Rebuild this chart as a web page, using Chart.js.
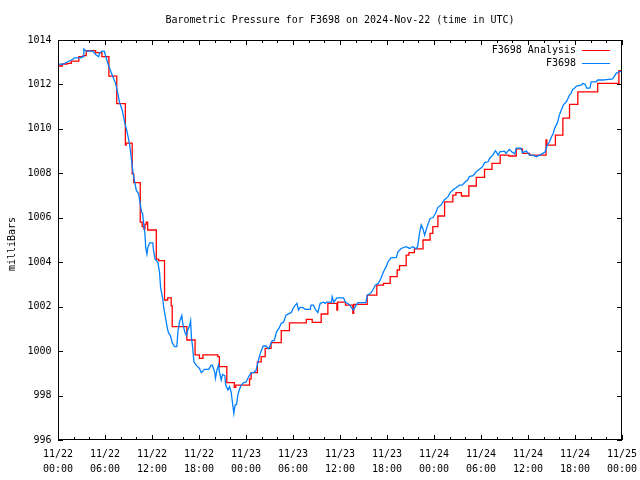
<!DOCTYPE html>
<html>
<head>
<meta charset="utf-8">
<script src="https://cdn.jsdelivr.net/npm/chart.js@4.4.1/dist/chart.umd.min.js"></script>
<style>
  html, body { margin: 0; padding: 0; background: #fff; }
  #pressure-chart { display: block; }
</style>
</head>
<body>
<canvas id="pressure-chart" width="640" height="480"></canvas>
<script>
var chartTitle = 'Barometric Pressure for F3698 on 2024-Nov-22 (time in UTC)';
var yAxisTitle = 'milliBars';
var seriesNames = ['F3698 Analysis', 'F3698'];

// hours since 2024-11-22 00:00 UTC
var xTickHours = [0, 6, 12, 18, 24, 30, 36, 42, 48, 54, 60, 66, 72];
var xTickLabels = [
    ['11/22', '00:00'], ['11/22', '06:00'], ['11/22', '12:00'], ['11/22', '18:00'],
    ['11/23', '00:00'], ['11/23', '06:00'], ['11/23', '12:00'], ['11/23', '18:00'],
    ['11/24', '00:00'], ['11/24', '06:00'], ['11/24', '12:00'], ['11/24', '18:00'],
    ['11/25', '00:00']
];
var yTickValues = [996, 998, 1000, 1002, 1004, 1006, 1008, 1010, 1012, 1014];

var analysisHours = [0, 0.55, 1.2, 1.7, 2.66, 3.2, 3.6, 4.8, 5.6, 6.5, 7.5, 8.6, 8.7, 9.47, 9.67,
    10.5, 10.75, 10.95, 11.1, 11.25, 11.45, 12.55, 12.85, 13.6, 14.0, 14.45, 14.58, 16.45, 17.5,
    18.06, 18.5, 20.4, 20.6, 21.55, 22.5, 22.7, 24.45, 24.66, 25.45, 25.94, 26.45, 27.2, 28.5,
    29.55, 31.7, 32.45, 33.6, 34.45, 35.6, 35.7, 36.7, 37.64, 37.75, 39.47, 40.7, 41.55, 42.4,
    43.3, 43.6, 44.45, 44.8, 45.5, 46.6, 47.5, 47.85, 48.5, 49.35, 50.4, 50.8, 51.5, 52.45,
    53.4, 54.45, 55.4, 56.45, 57.55, 58.5, 59.3, 60.2, 62.3, 62.4, 63.5, 64.45, 65.3, 66.36,
    68.9, 71.6, 72];
var analysisPressure = [1012.83, 1012.92, 1012.95, 1013.05, 1013.25, 1013.3, 1013.52, 1013.43,
    1013.25, 1012.37, 1011.14, 1009.27, 1009.36, 1007.98, 1007.58, 1005.8, 1005.6, 1005.5,
    1005.7, 1005.8, 1005.45, 1004.14, 1004.07, 1002.3, 1002.4, 1002.04, 1001.1, 1000.5, 999.83,
    999.67, 999.83, 999.75, 999.3, 998.58, 998.37, 998.47, 998.75, 999.03, 999.52, 999.75,
    1000.12, 1000.38, 1000.92, 1001.27, 1001.43, 1001.29, 1001.67, 1002.15, 1001.85, 1002.2,
    1002.07, 1001.7, 1002.1, 1002.52, 1002.97, 1003.05, 1003.35, 1003.65, 1003.85, 1004.32,
    1004.43, 1004.6, 1005.0, 1005.3, 1005.6, 1006.08, 1006.72, 1007.02, 1007.13, 1006.98,
    1007.43, 1007.82, 1008.18, 1008.45, 1008.82, 1008.78, 1009.1, 1008.9, 1008.82, 1009.5,
    1009.27, 1009.72, 1010.48, 1011.1, 1011.67, 1012.05, 1012.62, 1012.62];

var obsHours = [0, 0.6, 1.25, 1.9, 2.1, 2.9, 3.2, 3.3, 3.6, 4.45, 4.8, 5.2, 5.3, 5.6, 5.9, 6.07,
    6.36, 6.67, 7.0, 7.35, 7.64, 7.85, 8.2, 8.5, 8.8, 9.13, 9.35, 9.55, 9.77, 10.0, 10.3, 10.5,
    10.66, 10.8, 10.96, 11.1, 11.2, 11.35, 11.47, 11.7, 12.1, 12.2, 12.4, 12.75, 12.96, 13.1,
    13.35, 13.5, 13.73, 13.95, 14.1, 14.37, 14.58, 14.88, 15.17, 15.3, 15.5, 15.8, 15.94, 16.2,
    16.4, 16.57, 16.8, 16.93, 17.03, 17.2, 17.35, 17.64, 18.06, 18.3, 18.7, 19.25, 19.55, 19.7,
    20.0, 20.1, 20.3, 20.5, 20.6, 20.84, 21.0, 21.3, 21.4, 21.7, 21.9, 22.1, 22.23, 22.45, 22.6,
    22.8, 22.96, 23.17, 23.4, 23.7, 24.0, 24.3, 24.66, 25.0, 25.3, 25.5, 25.7, 25.9, 26.2, 26.55,
    26.9, 27.2, 27.35, 27.6, 27.9, 28.2, 28.5, 28.8, 29.1, 29.55, 29.8, 30.0, 30.3, 30.5, 30.7,
    30.9, 31.2, 31.6, 32.2, 32.3, 32.6, 32.9, 33.17, 33.47, 33.9, 34.1, 34.3, 34.9, 35.0, 35.2,
    35.6, 36.45, 36.7, 37.2, 37.5, 37.7, 38.06, 38.3, 39.3, 39.5, 39.9, 40.2, 40.5, 40.9, 41.26,
    41.55, 41.9, 42.1, 42.5, 43.2, 43.4, 43.8, 44.45, 44.9, 45.3, 45.7, 45.9, 46.15, 46.37, 46.6,
    46.8, 47.0, 47.2, 47.5, 47.85, 48.2, 48.5, 48.9, 49.3, 49.8, 50.0, 50.4, 50.8, 51.25, 51.6,
    52.0, 52.3, 52.5, 53.0, 53.4, 53.8, 54.2, 54.45, 54.9, 55.1, 55.5, 55.85, 56.2, 56.4, 57.0,
    57.2, 57.6, 58.0, 58.3, 58.5, 59.1, 59.3, 59.8, 60.2, 60.6, 61.05, 61.5, 61.9, 62.2, 62.45,
    62.75, 63.0, 63.2, 63.4, 63.6, 63.8, 64.0, 64.25, 64.5, 64.9, 65.1, 65.3, 65.5, 65.7, 65.9,
    66.2, 66.8, 67.0, 67.3, 67.5, 67.9, 68.07, 68.7, 68.9, 69.6, 70.0, 70.8, 71.27, 71.6, 72];
var obsPressure = [1012.92, 1012.9, 1013.02, 1013.13, 1013.2, 1013.2, 1013.25, 1013.6, 1013.5,
    1013.5, 1013.35, 1013.25, 1013.4, 1013.5, 1013.5, 1013.3, 1012.95, 1012.65, 1012.35, 1012.05,
    1011.6, 1011.2, 1010.84, 1010.3, 1009.9, 1009.33, 1008.7, 1008.1, 1007.65, 1007.23, 1007.08,
    1006.63, 1006.25, 1006.2, 1005.65, 1005.27, 1004.67, 1004.37, 1004.67, 1004.87, 1004.87,
    1004.52, 1004.14, 1004.0, 1003.54, 1002.86, 1002.4, 1001.95, 1001.5, 1001.05, 1000.83,
    1000.68, 1000.38, 1000.2, 1000.2, 1000.85, 1001.3, 1001.6, 1001.22, 1000.85, 1000.7, 1000.95,
    1001.15, 1001.37, 1000.62, 1000.15, 999.52, 999.37, 999.22, 999.03, 999.18, 999.18, 999.37,
    999.37, 999.07, 998.78, 999.15, 999.37, 999.07, 998.7, 998.95, 998.9, 998.47, 998.25, 998.4,
    998.17, 997.8, 997.2, 997.57, 997.6, 998.03, 998.28, 998.47, 998.58, 998.6, 998.82, 999.03,
    999.03, 999.15, 999.45, 999.75, 999.97, 1000.23, 1000.23, 1000.1, 1000.35, 1000.47, 1000.47,
    1000.87, 1001.02, 1001.25, 1001.3, 1001.62, 1001.7, 1001.75, 1001.92, 1002.07, 1002.15,
    1001.85, 1001.97, 1001.97, 1001.88, 1001.88, 1002.07, 1002.07, 1001.85, 1001.73, 1002.15,
    1002.2, 1002.15, 1002.2, 1002.2, 1002.45, 1002.2, 1002.4, 1002.4, 1002.2, 1002.1, 1001.93,
    1001.85, 1002.07, 1002.18, 1002.18, 1002.52, 1002.6, 1002.75, 1002.97, 1003.05, 1003.3,
    1003.57, 1003.8, 1004.0, 1004.2, 1004.22, 1004.47, 1004.62, 1004.7, 1004.62, 1004.7, 1004.6,
    1004.7, 1005.3, 1005.68, 1005.5, 1005.22, 1005.45, 1005.68, 1005.97, 1006.0, 1006.2, 1006.47,
    1006.57, 1006.8, 1006.95, 1007.1, 1007.25, 1007.35, 1007.47, 1007.47, 1007.62, 1007.7,
    1007.85, 1007.9, 1008.07, 1008.18, 1008.3, 1008.48, 1008.52, 1008.68, 1008.82, 1009.02,
    1008.82, 1008.97, 1009.0, 1008.9, 1009.08, 1008.95, 1008.87, 1009.13, 1009.13, 1008.93,
    1009.0, 1008.82, 1008.82, 1008.75, 1008.82, 1008.9, 1008.97, 1009.27, 1009.42, 1009.65,
    1009.77, 1010.02, 1010.17, 1010.32, 1010.62, 1010.85, 1011.07, 1011.22, 1011.37, 1011.52,
    1011.6, 1011.78, 1011.82, 1011.93, 1011.97, 1012.05, 1012.0, 1011.83, 1011.83, 1012.12,
    1012.12, 1012.2, 1012.2, 1012.22, 1012.25, 1012.5, 1012.57, 1012.6];

var seriesColors = ['#ff0000', '#0080ff'];
var fontFamily = '"DejaVu Sans Mono", "Liberation Mono", monospace';

function toPoints(hours, values) {
    return hours.map(function (h, i) {
        return { x: h, y: values[i] };
    });
}

// gnuplot-like frame, inward ticks, title, ylabel and key
var gnuplotDecor = {
    id: 'gnuplotDecor',
    afterDatasetsDraw: function (chart) {
        var ctx = chart.ctx;
        var area = chart.chartArea;
        var xs = chart.scales.x;
        var ys = chart.scales.y;
        ctx.save();
        ctx.strokeStyle = '#000';
        ctx.lineWidth = 1;
        ctx.beginPath();
        for (var h = 0; h <= 72; h += 2) {
            var px = Math.round(xs.getPixelForValue(h)) + 0.5;
            var len = (h % 6 === 0) ? 5 : 3;
            ctx.moveTo(px, area.bottom);
            ctx.lineTo(px, area.bottom - len);
            ctx.moveTo(px, area.top);
            ctx.lineTo(px, area.top + len);
        }
        yTickValues.forEach(function (v) {
            var py = Math.round(ys.getPixelForValue(v)) + 0.5;
            ctx.moveTo(area.left, py);
            ctx.lineTo(area.left + 5, py);
            ctx.moveTo(area.right, py);
            ctx.lineTo(area.right - 5, py);
        });
        ctx.stroke();
        ctx.strokeRect(area.left + 0.5, area.top + 0.5, area.right - area.left - 1, area.bottom - area.top - 1);
        ctx.restore();
    },
    afterDraw: function (chart) {
        var ctx = chart.ctx;
        var area = chart.chartArea;
        ctx.save();
        ctx.fillStyle = '#000';
        ctx.font = '10px ' + fontFamily;
        ctx.textBaseline = 'middle';
        ctx.textAlign = 'center';
        ctx.fillText(chartTitle, (area.left + area.right) / 2, 20);

        ctx.save();
        ctx.translate(12.5, 244);
        ctx.rotate(-Math.PI / 2);
        ctx.fillText(yAxisTitle, 0, 0);
        ctx.restore();

        ctx.textAlign = 'right';
        seriesNames.forEach(function (name, i) {
            var y = 50 + i * 13;
            ctx.fillText(name, 576, y);
            ctx.strokeStyle = seriesColors[i];
            ctx.lineWidth = 1;
            ctx.beginPath();
            ctx.moveTo(582, y + 0.5);
            ctx.lineTo(610, y + 0.5);
            ctx.stroke();
        });
        ctx.restore();
    }
};

new Chart(document.getElementById('pressure-chart'), {
    type: 'line',
    data: {
        datasets: [
            {
                label: seriesNames[0],
                data: toPoints(analysisHours, analysisPressure),
                borderColor: seriesColors[0],
                borderWidth: 1.3,
                stepped: 'before',
                pointRadius: 0,
                fill: false,
                order: 1
            },
            {
                label: seriesNames[1],
                data: toPoints(obsHours, obsPressure),
                borderColor: seriesColors[1],
                borderWidth: 1.3,
                tension: 0,
                pointRadius: 0,
                fill: false,
                order: 0
            }
        ]
    },
    options: {
        responsive: false,
        animation: false,
        events: [],
        layout: { padding: { top: 40, right: 18, bottom: 0, left: 0 } },
        plugins: {
            legend: { display: false },
            title: { display: false },
            tooltip: { enabled: false }
        },
        scales: {
            x: {
                type: 'linear',
                min: 0,
                max: 72,
                grid: { display: false, drawTicks: false },
                border: { display: false },
                afterBuildTicks: function (scale) {
                    scale.ticks = xTickHours.map(function (v) { return { value: v }; });
                },
                afterFit: function (scale) {
                    scale.height = 40;
                    scale.paddingLeft = 0;
                    scale.paddingRight = 0;
                },
                ticks: {
                    autoSkip: false,
                    maxRotation: 0,
                    padding: 6.5,
                    color: '#000',
                    font: { family: fontFamily, size: 10, lineHeight: 1.5 },
                    callback: function (value, index) {
                        return xTickLabels[index];
                    }
                }
            },
            y: {
                min: 996,
                max: 1014,
                grid: { display: false, drawTicks: false },
                border: { display: false },
                afterBuildTicks: function (scale) {
                    scale.ticks = yTickValues.map(function (v) { return { value: v }; });
                },
                afterFit: function (scale) {
                    scale.width = 58;
                    scale.paddingTop = 0;
                    scale.paddingBottom = 0;
                },
                ticks: {
                    padding: 6.5,
                    color: '#000',
                    font: { family: fontFamily, size: 10 },
                    callback: function (value) { return String(value); }
                }
            }
        }
    },
    plugins: [gnuplotDecor]
});
</script>
</body>
</html>
